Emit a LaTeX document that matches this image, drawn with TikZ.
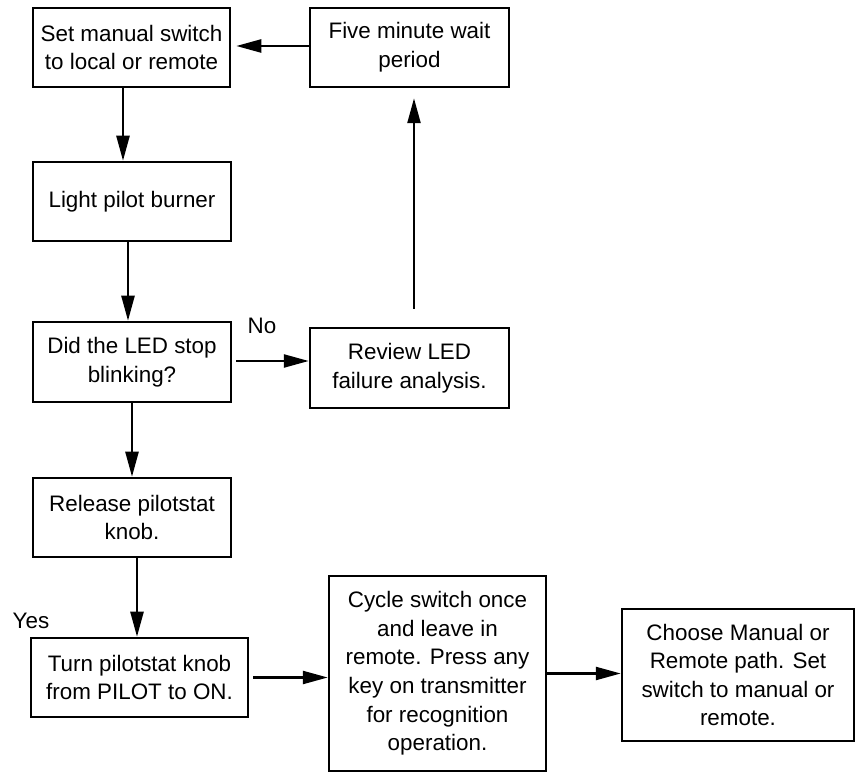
\documentclass[tikz,border=0pt]{standalone}
\usepackage{fontspec}
\setmainfont{Liberation Sans}
\usepackage{tikz}
\usetikzlibrary{arrows.meta,positioning}

\begin{document}
\begin{tikzpicture}[
  x=0.5pt, y=-0.5pt,
  box/.style={draw,line width=1.25pt,align=center,inner sep=0pt,font=\fontsize{11.2}{14.3}\selectfont},
  lbl/.style={inner sep=0pt,font=\fontsize{11.2}{14.3}\selectfont},
  arr/.style={-{Triangle[length=12.5pt,width=6.5pt]},line width=1.2pt}
]
\useasboundingbox (0,0) rectangle (857,774);
\node[box,minimum width=98.5pt,minimum height=39.5pt] (setsw) at (131.5,47.5) {Set manual switch\\to local or remote};
\node[box,minimum width=99.5pt,minimum height=39.5pt] (wait) at (409.5,47.5) {Five minute wait\\period};
\node[box,minimum width=99pt,minimum height=39.5pt] (light) at (132,201.5) {Light pilot burner};
\node[box,minimum width=99pt,minimum height=40pt] (ledstop) at (132,362) {Did the LED stop\\blinking?};
\node[box,minimum width=99.5pt,minimum height=40pt] (review) at (409.5,368) {Review LED\\failure analysis.};
\node[box,minimum width=99pt,minimum height=39.5pt] (release) at (132,517.5) {Release pilotstat\\knob.};
\node[box,minimum width=108.5pt,minimum height=39.5pt] (turn) at (139.5,677.5) {Turn pilotstat knob\\from PILOT to ON.};
\node[box,minimum width=108.5pt,minimum height=97.5pt] (cycle) at (437.5,673.5) {Cycle switch once\\and leave in\\remote. Press any\\key on transmitter\\for recognition\\operation.};
\node[box,minimum width=116pt,minimum height=66pt] (choose) at (738,675) {Choose Manual or\\Remote path. Set\\switch to manual or\\remote.};
\node[lbl] (no) at (262,326) {No};
\node[lbl] (yes) at (31,621) {Yes};
% connectors
\draw[arr,shorten >=2.5pt] ([yshift=0.75pt]wait.west) -- ([yshift=0.75pt]wait.west -| setsw.east);
\draw[arr] ([xshift=-4.25pt]setsw.south) -- ([xshift=-4.25pt]setsw.south |- light.north);
\draw[arr] ([xshift=-2pt]light.south) -- ([xshift=-2pt]light.south |- ledstop.north);
\draw[arr,shorten <=2pt] ([yshift=0.5pt]ledstop.east) -- ([yshift=0.5pt]ledstop.east -| review.west);
\draw[arr,shorten <=9pt,shorten >=5pt] ([xshift=2.25pt]review.north) -- ([xshift=2.25pt]review.north |- wait.south);
\draw[arr] (ledstop.south) -- (ledstop.south |- release.north);
\draw[arr] ([xshift=2.5pt]release.south) -- ([xshift=2.5pt]release.south |- turn.north);
\draw[arr,shorten <=2pt] (turn.east) -- (turn.east -| cycle.west);
\draw[arr] (cycle.east) -- (cycle.east -| choose.west);
\end{tikzpicture}
\end{document}
